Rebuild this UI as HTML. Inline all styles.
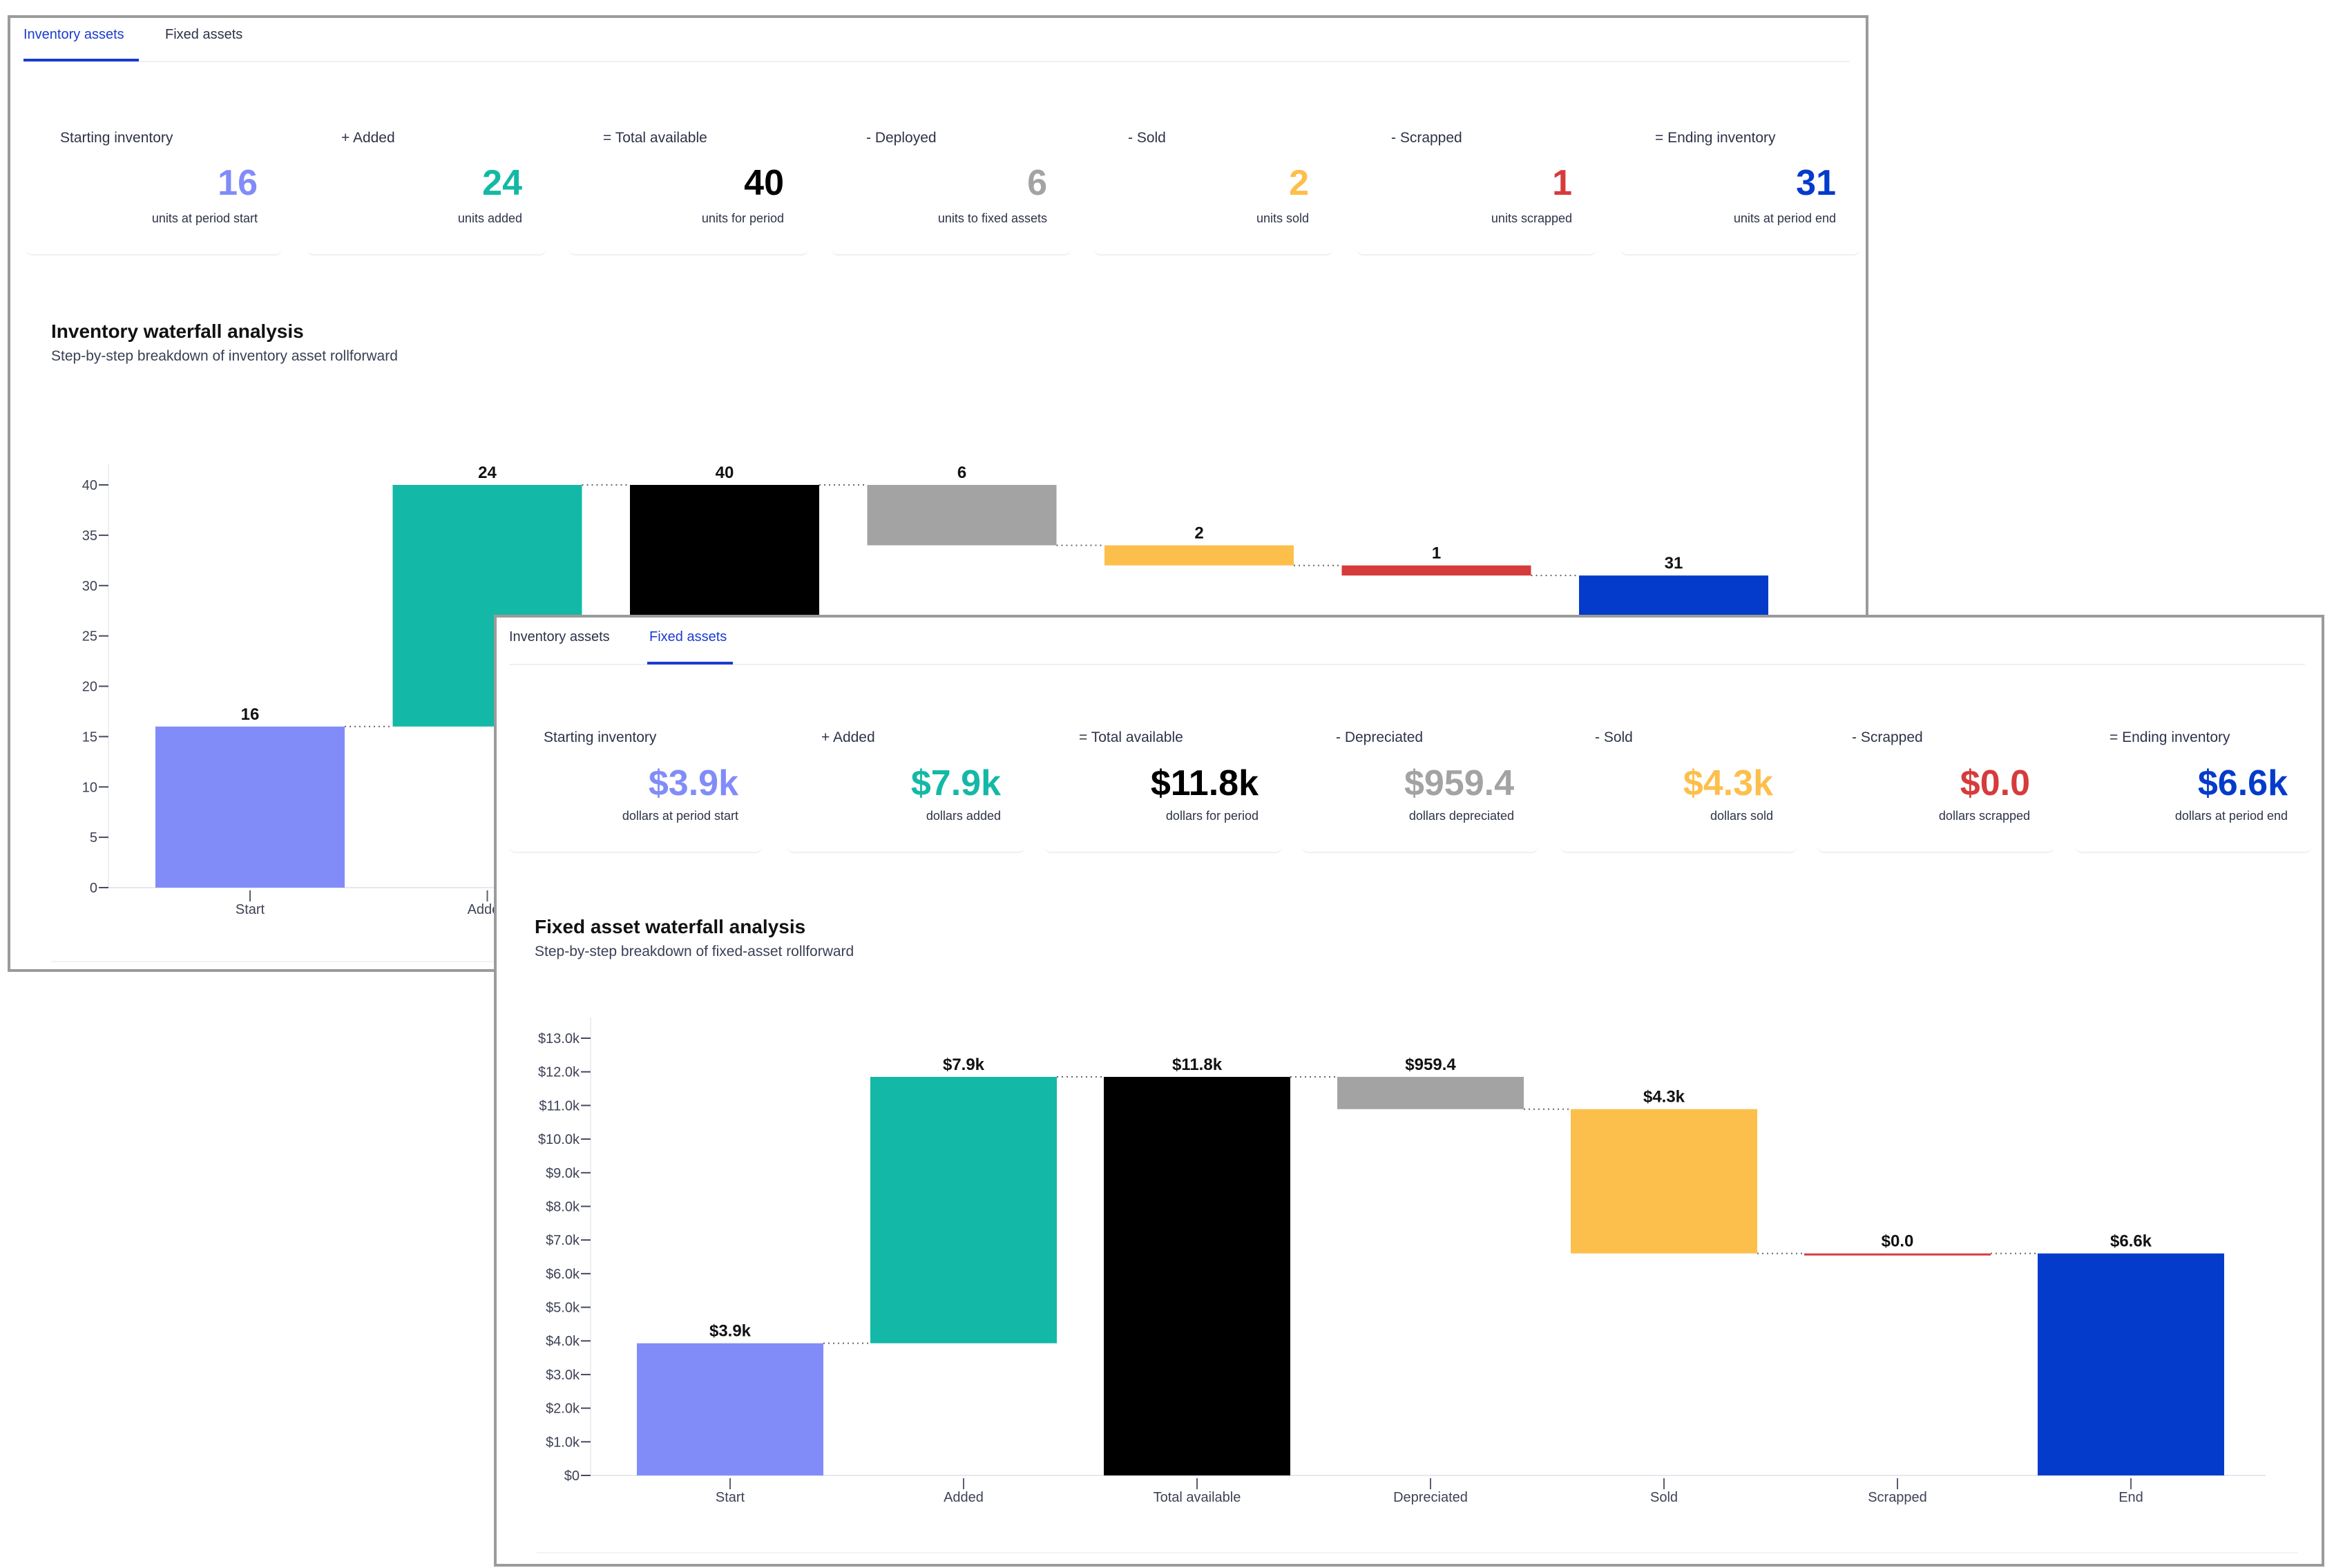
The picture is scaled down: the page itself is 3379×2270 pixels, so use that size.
<!DOCTYPE html>
<html><head><meta charset="utf-8"><style>
*{margin:0;padding:0;box-sizing:border-box}
body{width:3379px;height:2270px;background:#fff;position:relative;overflow:hidden;font-family:"Liberation Sans",Arial,sans-serif;color:#2d3348}
.panel{position:absolute;background:#fff;border:4px solid #9b9b9b;overflow:hidden}
.abs{position:absolute;white-space:nowrap}
svg.ch{position:absolute;width:3379px;height:2270px}
.tab{font-size:20px;line-height:24px}
.lbl{font-size:21px;line-height:26px;color:#2d3348}
.val{font-size:52px;font-weight:bold;line-height:60px;text-align:right}
.sub{font-size:18px;line-height:22px;text-align:right;color:#2d3348}
.card{position:absolute;border-bottom:2px solid #f0f0f2;border-radius:10px}
.title{font-size:28px;font-weight:bold;line-height:34px;color:#111}
.subt{font-size:21px;line-height:26px;color:#3a3f55}
</style></head><body>

<div class="panel" id="back" style="left:11px;top:22px;width:2694px;height:1385px">
 <svg class="ch" id="invSvg" style="left:-15px;top:-26px"></svg>
</div>

<div class="panel" id="front" style="left:715px;top:890px;width:2650px;height:1378px">
 <svg class="ch" id="fixSvg" style="left:-719px;top:-894px"></svg>
</div>

<script>
// ---------- data ----------
const invCategories=["Start","Added","Total available","Deployed","Sold","Scrapped","End"];
const invValues=[16,24,40,6,2,1,31];
const invKinds=["total","up","total","down","down","down","total"];
const invValueLabels=["16","24","40","6","2","1","31"];
const invTicks=[0,5,10,15,20,25,30,35,40];
const invTickLabels=["0","5","10","15","20","25","30","35","40"];

const fixCategories=["Start","Added","Total available","Depreciated","Sold","Scrapped","End"];
const fixValues=[3.93,7.92,11.85,0.9594,4.29,0.0,6.6];
const fixKinds=["total","up","total","down","down","down","total"];
const fixValueLabels=["$3.9k","$7.9k","$11.8k","$959.4","$4.3k","$0.0","$6.6k"];
const fixTicks=[0,1,2,3,4,5,6,7,8,9,10,11,12,13];
const fixTickLabels=["$0","$1.0k","$2.0k","$3.0k","$4.0k","$5.0k","$6.0k","$7.0k","$8.0k","$9.0k","$10.0k","$11.0k","$12.0k","$13.0k"];

const invStatLabels=["Starting inventory","+ Added","= Total available","- Deployed","- Sold","- Scrapped","= Ending inventory"];
const invStatValues=["16","24","40","6","2","1","31"];
const invStatSubs=["units at period start","units added","units for period","units to fixed assets","units sold","units scrapped","units at period end"];
const fixStatLabels=["Starting inventory","+ Added","= Total available","- Depreciated","- Sold","- Scrapped","= Ending inventory"];
const fixStatValues=["$3.9k","$7.9k","$11.8k","$959.4","$4.3k","$0.0","$6.6k"];
const fixStatSubs=["dollars at period start","dollars added","dollars for period","dollars depreciated","dollars sold","dollars scrapped","dollars at period end"];

const colors=["#818cf8","#14b8a6","#000000","#a3a3a3","#fdbf4c","#d63b3b","#053bcb"];
const NS="http://www.w3.org/2000/svg";

function mk(parent,tag,attrs,text){
  const e=document.createElementNS(NS,tag);
  for(const k in attrs)e.setAttribute(k,attrs[k]);
  if(text!==undefined)e.textContent=text;
  parent.appendChild(e);return e;
}

function drawChart(svg,cfg){
  const {cats,vals,kinds,labels,ticks,tickLabels,axisX,axisRight,y0,yMax,yMaxPx,bar0,barW,step,prefix}=cfg;
  const y=v=>y0-(v/yMax)*(y0-yMaxPx);
  const xL=i=>bar0+i*step;
  // axes
  let a=mk(svg,'line',{x1:axisX,y1:yMaxPx-30,x2:axisX,y2:y0,stroke:'#eceef2','stroke-width':2});
  
  
  let b=mk(svg,'line',{x1:axisX,y1:y0,x2:axisRight,y2:y0,stroke:'#e6e8ee','stroke-width':2});
  
  
  ticks.forEach((t,i)=>{
    const yy=y(t);
    const tl=mk(svg,'line',{x1:axisX-14,y1:yy,x2:axisX,y2:yy,stroke:'#444a5e','stroke-width':2});
    
    
    const tx=mk(svg,'text',{x:axisX-16,y:yy+7,'text-anchor':'end','font-size':20,fill:'#3d4256'},tickLabels[i]);
    
    
  });
  let run=0;
  vals.forEach((v,i)=>{
    let lo,hi;
    if(kinds[i]==='total'){lo=0;hi=v;run=v;}
    else if(kinds[i]==='up'){lo=run;hi=run+v;run=hi;}
    else {lo=run-v;hi=run;run=lo;}
    const top=y(hi),bot=y(lo);
    const h=Math.max(bot-top,3);
    const r=mk(svg,'rect',{x:xL(i),y:top,width:barW,height:h,fill:colors[i]});
    
    
    const t=mk(svg,'text',{x:xL(i)+barW/2,y:top-10,'text-anchor':'middle','font-size':24,'font-weight':'bold',fill:'#111'},labels[i]);
    
    
    const cx=xL(i)+barW/2;
    const xt=mk(svg,'line',{x1:cx,y1:y0+4,x2:cx,y2:y0+20,stroke:'#5a5f72','stroke-width':2});
    
    
    const xl=mk(svg,'text',{x:cx,y:y0+38,'text-anchor':'middle','font-size':20,fill:'#3d4256'},cats[i]);
    
    
    if(i<vals.length-1){
      const c=mk(svg,'line',{x1:xL(i)+barW,y1:y(run),x2:xL(i+1),y2:y(run),stroke:'#666','stroke-width':2,'stroke-dasharray':'2 5'});
      
      
    }
  });
}

function addDiv(panel,cls,style,text,name,inter){
  const d=document.createElement('div');
  d.className=cls;d.style.cssText=style;if(text!==undefined)d.textContent=text;
  
  
  panel.appendChild(d);return d;
}

function buildPanel(panel,ox,oy,cfg){
  // tabs
  addDiv(panel,'abs tab','left:'+(cfg.tab1x-ox)+'px;top:'+(cfg.tabY-12-oy)+'px;color:'+(cfg.active===0?'#1a3bd1':'#2d3348'),'Inventory assets','inventory-assets-tab',true);
  addDiv(panel,'abs tab','left:'+(cfg.tab2x-ox)+'px;top:'+(cfg.tabY-12-oy)+'px;color:'+(cfg.active===1?'#1a3bd1':'#2d3348'),'Fixed assets','fixed-assets-tab',true);
  addDiv(panel,'abs','left:'+(cfg.tab1x-ox)+'px;top:'+(cfg.lineY-oy)+'px;width:'+(cfg.panelW-50)+'px;height:2px;background:#f0f1f4','','tab-divider',false);
  addDiv(panel,'abs','left:'+(cfg.ulx-ox)+'px;top:'+(cfg.lineY-3-oy)+'px;width:'+cfg.ulw+'px;height:4px;background:#1a3bd1','','active-tab-underline',false);
  for(let i=0;i<7;i++){
    addDiv(panel,'card','left:'+(cfg.lx[i]-50-ox)+'px;top:'+(cfg.cardTop-oy)+'px;width:'+(cfg.vr[i]-cfg.lx[i]+85)+'px;height:'+(cfg.cardBot-cfg.cardTop)+'px','', 'stat-card',false);
    addDiv(panel,'abs lbl','left:'+(cfg.lx[i]-ox)+'px;top:'+(cfg.lblY-13-oy)+'px',cfg.labels[i],'stat-label',false);
    addDiv(panel,'abs val','right:'+(cfg.panelRight-cfg.vr[i])+'px;top:'+(cfg.valY-30-oy)+'px;color:'+colors[i],cfg.values[i],'stat-value',false);
    addDiv(panel,'abs sub','right:'+(cfg.panelRight-cfg.vr[i])+'px;top:'+(cfg.subY-11-oy)+'px',cfg.subs[i],'stat-caption',false);
  }
  addDiv(panel,'abs title','left:'+(cfg.tx-ox)+'px;top:'+(cfg.titleY-17-oy)+'px',cfg.title,'chart-title',false);
  addDiv(panel,'abs subt','left:'+(cfg.tx-ox)+'px;top:'+(cfg.subtY-13-oy)+'px',cfg.subtitle,'chart-subtitle',false);
  addDiv(panel,'abs','left:'+(cfg.tab1x+40-ox)+'px;top:'+(cfg.bottomLine-oy)+'px;width:'+(cfg.panelW-100)+'px;height:2px;background:#f2f3f5','','card-bottom-line',false);
}

const back=document.getElementById('back'), front=document.getElementById('front');
buildPanel(back,15,26,{tab1x:34,tab2x:239,tabY:50,lineY:88,ulx:34,ulw:167,active:0,panelW:2694,panelRight:2705-4,
  cardTop:110,cardBot:370,lblY:200,valY:265,subY:316,
  lx:[87,494,873,1254,1633,2014,2396],vr:[373,756,1135,1516,1895,2276,2658],
  labels:invStatLabels,values:invStatValues,subs:invStatSubs,
  tx:74,titleY:480,subtY:516,title:"Inventory waterfall analysis",subtitle:"Step-by-step breakdown of inventory asset rollforward",bottomLine:1391});
buildPanel(front,719,894,{tab1x:737,tab2x:940,tabY:922,lineY:961,ulx:937,ulw:124,active:1,panelW:2650,panelRight:3365-4,
  cardTop:980,cardBot:1235,lblY:1068,valY:1134,subY:1181,
  lx:[787,1189,1562,1934,2309,2681,3054],vr:[1069,1449,1822,2192,2567,2939,3312],
  labels:fixStatLabels,values:fixStatValues,subs:fixStatSubs,
  tx:774,titleY:1342,subtY:1378,title:"Fixed asset waterfall analysis",subtitle:"Step-by-step breakdown of fixed-asset rollforward",bottomLine:2247});

drawChart(document.getElementById('invSvg'),{cats:invCategories,vals:invValues,kinds:invKinds,labels:invValueLabels,
  ticks:invTicks,tickLabels:invTickLabels,axisX:157,axisRight:2600,y0:1285,yMax:40,yMaxPx:702,bar0:225,barW:274,step:343.5,prefix:'inventory'});
drawChart(document.getElementById('fixSvg'),{cats:fixCategories,vals:fixValues,kinds:fixKinds,labels:fixValueLabels,
  ticks:fixTicks,tickLabels:fixTickLabels,axisX:855,axisRight:3280,y0:2136,yMax:13,yMaxPx:1503,bar0:922,barW:270,step:338,prefix:'fixed'});
</script>
</body></html>
